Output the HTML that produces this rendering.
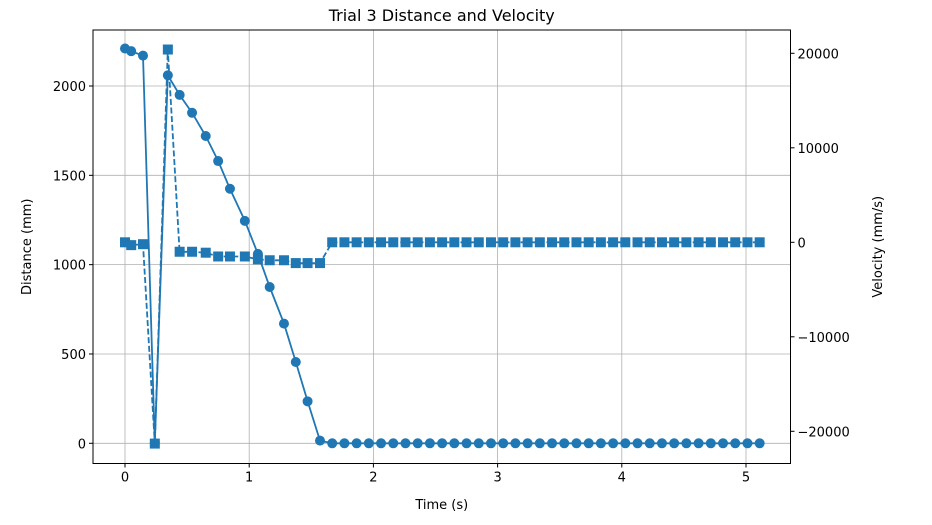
<!DOCTYPE html><html><head><meta charset="utf-8"><style>body{margin:0;background:#fff}svg{display:block;font-family:"DejaVu Sans","Liberation Sans",sans-serif}</style></head><body>
<svg id="s" width="932" height="525" xmlns="http://www.w3.org/2000/svg"></svg>
<script>
const L=93,R=790.5,T=30,B=463.5,C='#1f77b4';
const X=t=>125+t*124.2, Yd=d=>443.3-d*0.17865, Yv=v=>242.3-v*0.00945;
let h='';
for(let t=0;t<=5;t++){h+=`<line x1="${X(t)}" y1="${T}" x2="${X(t)}" y2="${B}" stroke="#b0b0b0" stroke-width="0.8"/>`;
h+=`<line x1="${X(t)}" y1="${B}" x2="${X(t)}" y2="${B+4}" stroke="#000"/><text x="${X(t)}" y="${B+18}" font-size="13" text-anchor="middle">${t}</text>`;}
for(let d=0;d<=2000;d+=500){h+=`<line x1="${L}" y1="${Yd(d)}" x2="${R}" y2="${Yd(d)}" stroke="#b0b0b0" stroke-width="0.8"/>`;
h+=`<line x1="${L-4}" y1="${Yd(d)}" x2="${L}" y2="${Yd(d)}" stroke="#000"/><text x="${L-7}" y="${Yd(d)+5}" font-size="13" text-anchor="end">${d}</text>`;}
for(let v=-20000;v<=20000;v+=10000){h+=`<line x1="${R}" y1="${Yv(v)}" x2="${R+4}" y2="${Yv(v)}" stroke="#000"/><text x="${R+7}" y="${Yv(v)+5}" font-size="13">${v<0?'\u2212'+(-v):v}</text>`;}
let ts=[0,0.05,0.145,0.24,0.345,0.44,0.54,0.65,0.75,0.845,0.965,1.07,1.165,1.28,1.375,1.47,1.57];
let ds=[2210,2195,2170,0,2060,1950,1850,1720,1580,1425,1245,1060,875,670,455,235,15];
let vs=[0,-300,-200,-21300,20400,-1000,-1000,-1100,-1500,-1500,-1500,-1800,-1900,-1900,-2200,-2200,-2200];
for(let i=1;i<=36;i++){ts.push(1.57+i*(5.11-1.57)/36);ds.push(0);vs.push(0);}
let pd=ts.map((t,i)=>X(t).toFixed(1)+','+Yd(ds[i]).toFixed(1)).join(' ');
let pv=ts.map((t,i)=>X(t).toFixed(1)+','+Yv(vs[i]).toFixed(1)).join(' ');
h+=`<polyline points="${pd}" fill="none" stroke="${C}" stroke-width="1.8"/>`;
ts.forEach((t,i)=>h+=`<circle cx="${X(t)}" cy="${Yd(ds[i])}" r="5" fill="${C}"/>`);
h+=`<polyline points="${pv}" fill="none" stroke="${C}" stroke-width="1.8" stroke-dasharray="6,2.6"/>`;
ts.forEach((t,i)=>h+=`<rect x="${X(t)-5}" y="${Yv(vs[i])-5}" width="10" height="10" fill="${C}"/>`);
h+=`<rect x="${L}" y="${T}" width="${R-L}" height="${B-T}" fill="none" stroke="#000" stroke-width="1"/>`;
h+=`<text x="${(L+R)/2}" y="21" font-size="16" text-anchor="middle">Trial 3 Distance and Velocity</text>`;
h+=`<text x="${(L+R)/2}" y="509" font-size="13" text-anchor="middle">Time (s)</text>`;
h+=`<text transform="translate(31,${(T+B)/2}) rotate(-90)" font-size="13" text-anchor="middle">Distance (mm)</text>`;
h+=`<text transform="translate(882,${(T+B)/2}) rotate(-90)" font-size="13" text-anchor="middle">Velocity (mm/s)</text>`;
document.getElementById('s').innerHTML=h;
</script></body></html>
